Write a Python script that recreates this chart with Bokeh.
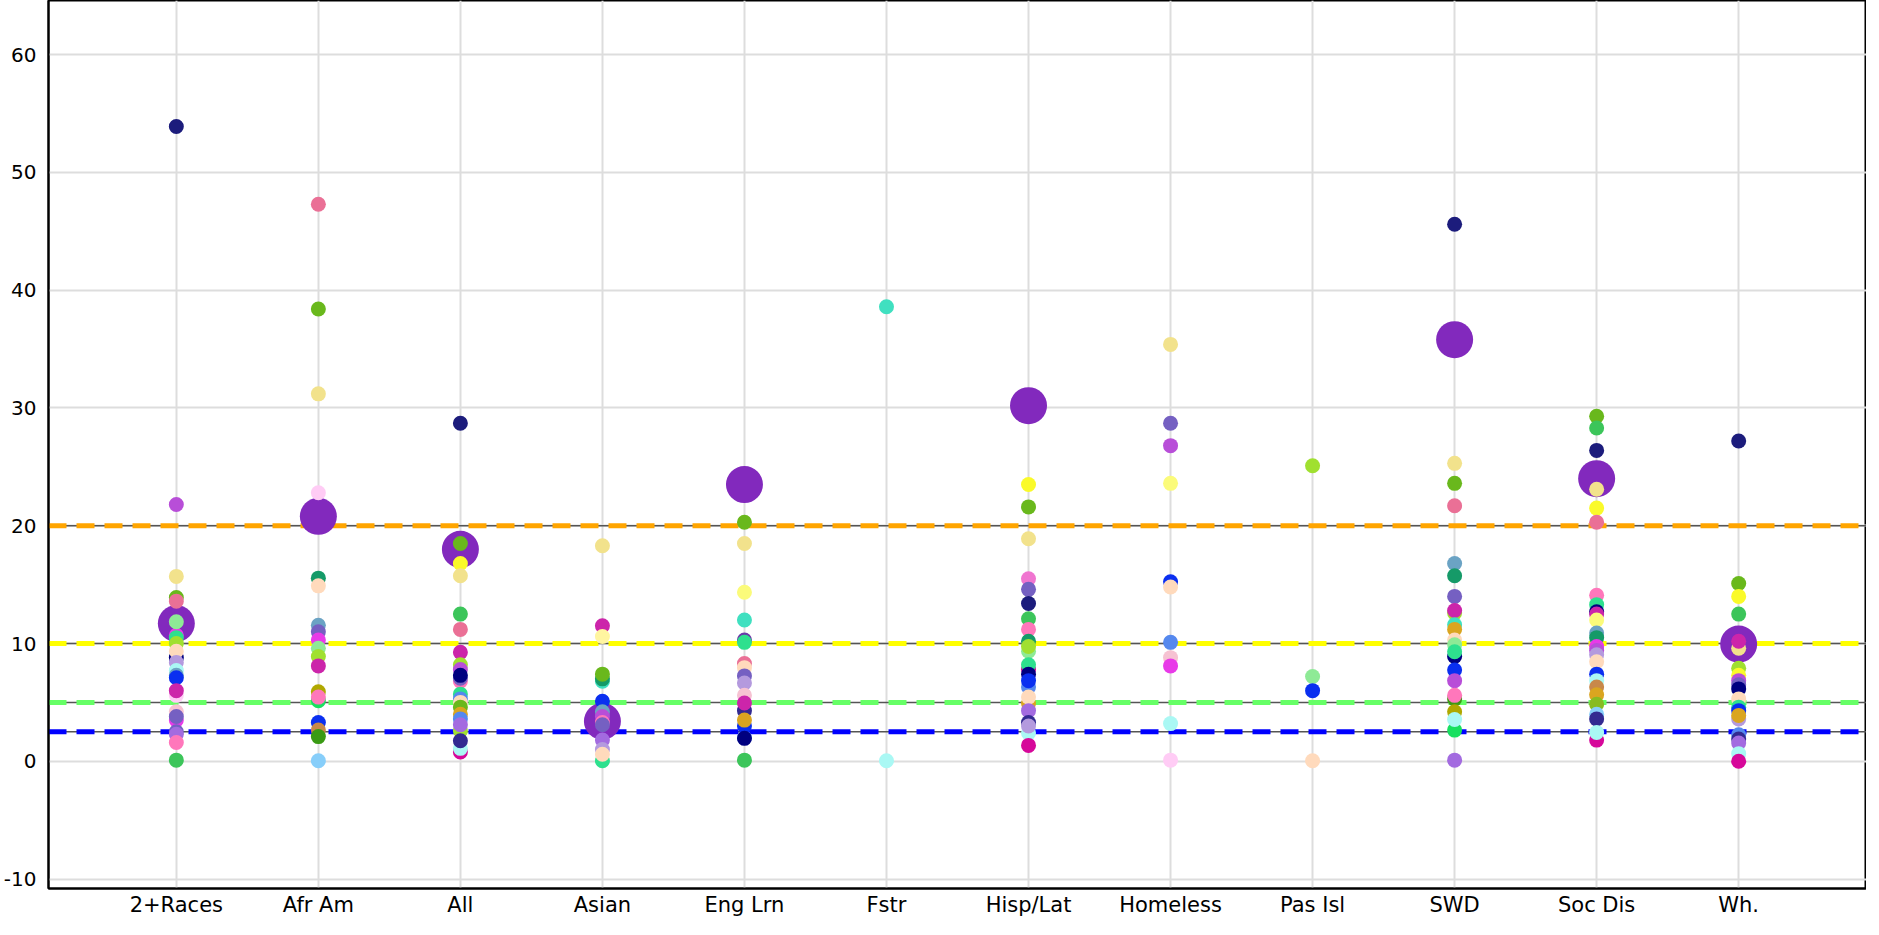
from bokeh.plotting import figure
from bokeh.models import (FactorRange, Range1d, Span, ColumnDataSource,
                          SingleIntervalTicker, PrintfTickFormatter)
from bokeh.embed import file_html
from bokeh.resources import INLINE

# ---- colours (one per school / series) ----
NAVYM = "#1c1c7c"; PVR = "#ea7096"; YG = "#69b81c"; KHAKI = "#f2e28c"
LPINK = "#ffccf5"; ORCHID = "#b84ed8"; SEAGREEN = "#159a68"; PEACH = "#ffdabc"
STEEL = "#6ba3c4"; SLATE = "#7560c2"; MAGENTA = "#e83ae8"; LGREEN = "#8eea96"
GYELLOW = "#a0e030"; MVR = "#cc25aa"; OLIVE = "#b0a800"; HOTPINK = "#ff77bb"
GREEN = "#3cc55a"; BLUE = "#0a2ff0"; LSKY = "#87cefa"; FOREST = "#3a9a14"
AQUA = "#2ee08e"; YELLOW = "#fafa2a"; LYELLOW = "#fbfb7a"; TURQ = "#40e0c0"
GOLD = "#daa520"; NAVY = "#000080"; CORN = "#5588ee"; MPURPLE = "#a36be0"
PTURQ = "#aaf8f4"; DSLATE = "#332a91"; DPINK = "#d6089a"; PERU = "#c8884a"
LAV = "#b49ade"; LPINK2 = "#f6c2d2"; REBECCA = "#6a3aa8"; BGREEN = "#18e060"
CREAM = "#fff5a0"; ORCHIDPINK = "#f075d0"; DRAB = "#88bb22"
BIG_PURPLE = "#8229bd"

cats = ["2+Races", "Afr Am", "All", "Asian", "Eng Lrn", "Fstr", "Hisp/Lat",
        "Homeless", "Pas Isl", "SWD", "Soc Dis", "Wh."]

# highlighted (large) points
highlight_cats = ["2+Races", "Afr Am", "All", "Asian", "Eng Lrn", "Hisp/Lat", "SWD", "Soc Dis", "Wh."]
highlight_vals = [11.7, 20.8, 18.0, 3.4, 23.5, 30.2, 35.8, 24.0, 9.95]

# threshold reference lines
threshold_vals = [20, 10, 5, 2.5]
threshold_colors = ["#ffa500", "#ffff00", "#66ff66", "#0000ff"]

# ---- per-category points ----
races2_vals = [53.9, 21.8, 15.7, 13.9, 13.6, 10.7, 10.5, 10.0, 11.85, 8.8, 9.35, 8.4, 7.7, 7.3, 7.1,
               5.6, 6.0, 4.2, 3.5, 3.8, 2.5, 2.3, 1.6, 0.1]
races2_cols = [NAVYM, ORCHID, KHAKI, YG, PVR, MAGENTA, AQUA, GYELLOW, LGREEN, NAVY, PEACH, LAV, PTURQ, STEEL, BLUE,
               LPINK, MVR, LPINK2, MAGENTA, SLATE, SLATE, MPURPLE, HOTPINK, GREEN]

afram_vals = [47.3, 38.4, 31.2, 22.8, 15.55, 14.9, 11.55, 11.0, 10.3, 9.6, 8.9, 8.1, 5.9, 5.15, 5.45,
              3.3, 2.65, 2.1, 0.05]
afram_cols = [PVR, YG, KHAKI, LPINK, SEAGREEN, PEACH, STEEL, SLATE, MAGENTA, LGREEN, GYELLOW, MVR, OLIVE, BGREEN, HOTPINK,
              BLUE, PERU, FOREST, LSKY]

all_vals = [28.7, 18.5, 16.8, 15.75, 12.5, 11.2, 9.25, 8.2, 7.8, 6.8, 7.05, 7.3, 5.7, 5.3, 5.0, 4.6, 4.0,
            3.6, 2.6, 3.1, 0.8, 1.1, 1.75]
all_cols = [NAVYM, YG, YELLOW, KHAKI, GREEN, PVR, MVR, GYELLOW, ORCHID, HOTPINK, SLATE, NAVY, AQUA, CORN, PEACH, YG, GOLD,
            CORN, GYELLOW, MPURPLE, DPINK, PTURQ, DSLATE]

asian_vals = [18.3, 11.5, 10.6, 6.8, 7.0, 7.4, 5.1, 4.2, 3.8, 3.3, 3.1, 1.8, 1.0, 0.05, 0.6]
asian_cols = [KHAKI, MVR, CREAM, TURQ, SEAGREEN, YG, BLUE, STEEL, ORCHID, HOTPINK, SLATE, MPURPLE, LAV, AQUA, PEACH]

englrn_vals = [20.3, 18.5, 14.35, 12.0, 10.3, 10.1, 8.3, 7.95, 7.25, 6.65, 5.6, 4.3, 4.95, 2.0, 3.0, 3.5, 1.95, 0.1]
englrn_cols = [YG, KHAKI, LYELLOW, TURQ, REBECCA, AQUA, PVR, PEACH, SLATE, LAV, LPINK2, DSLATE, MVR, CORN, BLUE, GOLD, NAVY, GREEN]

fstr_vals = [38.6, 0.05]
fstr_cols = [TURQ, PTURQ]

hisp_vals = [23.5, 21.6, 18.9, 15.5, 14.6, 13.4, 12.1, 11.2, 10.2, 9.35, 9.75, 7.8, 8.2, 6.3, 7.4, 6.85,
             4.9, 5.45, 4.3, 3.3, 2.4, 3.0, 1.35]
hisp_cols = [YELLOW, YG, KHAKI, ORCHIDPINK, SLATE, NAVYM, GREEN, HOTPINK, SEAGREEN, LGREEN, GYELLOW, DPINK, AQUA, CORN, NAVY, BLUE,
             GOLD, PEACH, MPURPLE, DSLATE, PTURQ, LAV, DPINK]

homeless_vals = [35.4, 28.7, 26.8, 23.6, 15.25, 14.8, 10.1, 8.8, 8.1, 3.2, 0.1]
homeless_cols = [KHAKI, SLATE, ORCHID, LYELLOW, BLUE, PEACH, CORN, LPINK2, MAGENTA, PTURQ, LPINK]

pasisl_vals = [25.1, 7.2, 6.0, 0.05]
pasisl_cols = [GYELLOW, LGREEN, BLUE, PEACH]

swd_vals = [45.6, 25.3, 23.6, 21.7, 16.8, 15.75, 14.0, 12.6, 12.8, 11.6, 11.2, 10.3, 9.9, 8.9, 9.3, 7.75,
            6.85, 5.3, 5.6, 4.2, 2.65, 3.55, 0.1]
swd_cols = [NAVYM, KHAKI, YG, PVR, STEEL, SEAGREEN, SLATE, GYELLOW, MVR, TURQ, GOLD, PEACH, LGREEN, NAVY, AQUA, BLUE,
            ORCHID, FOREST, HOTPINK, OLIVE, BGREEN, PTURQ, MPURPLE]

socdis_vals = [29.3, 28.3, 26.4, 23.1, 21.5, 20.3, 14.1, 13.3, 12.7, 12.5, 12.0, 10.9, 10.5, 9.75, 9.4, 9.05,
               8.45, 7.4, 6.85, 6.3, 5.65, 4.85, 4.0, 3.6, 1.8, 2.45]
socdis_cols = [YG, GREEN, NAVYM, KHAKI, YELLOW, PVR, HOTPINK, AQUA, NAVY, MVR, LYELLOW, STEEL, SEAGREEN, MAGENTA, ORCHID, LAV,
               PEACH, BLUE, PTURQ, PERU, GOLD, DRAB, LSKY, DSLATE, DPINK, PTURQ]

wh_vals = [27.2, 15.1, 14.0, 12.5, 9.6, 10.2, 7.9, 7.3, 6.85, 6.5, 6.15, 5.3, 4.6, 4.3, 3.6, 3.9,
           2.25, 1.9, 1.55, 0.65, 0.0]
wh_cols = [NAVYM, YG, YELLOW, GREEN, KHAKI, MVR, GYELLOW, YELLOW, ORCHID, SLATE, NAVY, PEACH, AQUA, BLUE, LAV, GOLD,
           CORN, DSLATE, MPURPLE, PTURQ, DPINK]

groups = [
    ("2+Races", races2_vals, races2_cols), ("Afr Am", afram_vals, afram_cols),
    ("All", all_vals, all_cols), ("Asian", asian_vals, asian_cols),
    ("Eng Lrn", englrn_vals, englrn_cols), ("Fstr", fstr_vals, fstr_cols),
    ("Hisp/Lat", hisp_vals, hisp_cols), ("Homeless", homeless_vals, homeless_cols),
    ("Pas Isl", pasisl_vals, pasisl_cols), ("SWD", swd_vals, swd_cols),
    ("Soc Dis", socdis_vals, socdis_cols), ("Wh.", wh_vals, wh_cols),
]

xs, ys, cs = [], [], []
for cat, vals, cols in groups:
    for v, c in zip(vals, cols):
        xs.append(cat); ys.append(v); cs.append(c)

FONT = "DejaVu Sans"

p = figure(
    x_range=FactorRange(*cats, range_padding=0.4, range_padding_units="absolute"),
    y_range=Range1d(-10.8, 64.6),
    width=1866, height=919,
    output_backend="svg", toolbar_location=None,
    min_border_left=43, min_border_right=0, min_border_top=0, min_border_bottom=0,
)

p.outline_line_color = "black"
p.outline_line_width = 2
p.outline_line_alpha = 1.0

p.yaxis.ticker = SingleIntervalTicker(interval=10)
p.yaxis.formatter = PrintfTickFormatter(format="%d")
for ax in (p.xaxis, p.yaxis):
    ax.axis_line_color = "black"
    ax.axis_line_width = 2
    ax.major_tick_in = 0
    ax.major_tick_out = 0
    ax.minor_tick_line_color = None
    ax.major_label_text_font = FONT
    ax.major_label_text_color = "black"
    ax.axis_label_standoff = 0
    ax.axis_label_text_font_size = "0px"
p.yaxis.major_label_text_font_size = "20px"
p.xaxis.major_label_text_font_size = "21px"
p.yaxis.major_label_standoff = 8
p.xaxis.major_label_standoff = 4

for g in (p.xgrid, p.ygrid):
    g.grid_line_color = "#dddddd"
    g.grid_line_width = 2

for v, col in zip(threshold_vals, threshold_colors):
    p.add_layout(Span(location=v, dimension="width", line_color="#555555",
                      line_width=1.5, level="underlay"))
    p.add_layout(Span(location=v, dimension="width", line_color=col,
                      line_width=5, line_dash="18 10", level="underlay"))

p.scatter(x=highlight_cats, y=highlight_vals, size=37, fill_color=BIG_PURPLE, line_color=None)

src = ColumnDataSource(dict(x=xs, y=ys, c=cs))
p.scatter("x", "y", source=src, size=15, fill_color="c", line_color=None)

open("out.html", "w").write(file_html(p, INLINE))
